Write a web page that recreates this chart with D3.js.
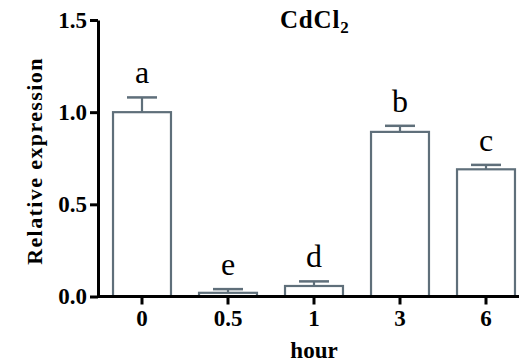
<!DOCTYPE html>
<html>
<head>
<meta charset="utf-8">
<script src="https://cdn.jsdelivr.net/npm/d3@7"></script>
<style>
  body { margin: 0; background: #fff; }
  text { font-family: "Liberation Serif", "Times New Roman", serif; }
</style>
</head>
<body>
<script>
const hours = ["0", "0.5", "1", "3", "6"];
const means = [1.0, 0.02, 0.057, 0.893, 0.69];
const errs = [0.08, 0.02, 0.025, 0.033, 0.024];
const letters = ["a", "e", "d", "b", "c"];
const yTicks = [0, 0.5, 1.0, 1.5];

const w = 519, h = 362;
const barColor = "#5f6f7a";

const svg = d3.select("body").append("svg")
  .attr("width", w)
  .attr("height", h);

const x = d3.scaleBand()
  .domain(hours)
  .range([99, 529])
  .paddingInner(0.326)
  .paddingOuter(0.163);

const y = d3.scaleLinear()
  .domain([0, 1.5])
  .range([296.5, 20]);

const bars = svg.selectAll(".bar")
  .data(hours)
  .join("g")
  .attr("class", "bar");

bars.append("rect")
  .attr("x", d => x(d))
  .attr("y", (d, i) => y(means[i]))
  .attr("width", x.bandwidth())
  .attr("height", (d, i) => y(0) - y(means[i]))
  .attr("fill", "white")
  .attr("stroke", barColor)
  .attr("stroke-width", 2.2);

// error bars (upper only)
bars.append("line")
  .attr("x1", d => x(d) + x.bandwidth() / 2)
  .attr("x2", d => x(d) + x.bandwidth() / 2)
  .attr("y1", (d, i) => y(means[i]))
  .attr("y2", (d, i) => y(means[i] + errs[i]))
  .attr("stroke", barColor)
  .attr("stroke-width", 2.2);

bars.append("line")
  .attr("x1", d => x(d) + x.bandwidth() / 2 - 15)
  .attr("x2", d => x(d) + x.bandwidth() / 2 + 15)
  .attr("y1", (d, i) => y(means[i] + errs[i]))
  .attr("y2", (d, i) => y(means[i] + errs[i]))
  .attr("stroke", barColor)
  .attr("stroke-width", 2.5);

bars.append("text")
  .attr("x", d => x(d) + x.bandwidth() / 2)
  .attr("y", (d, i) => y(means[i] + errs[i]) - 14)
  .attr("text-anchor", "middle")
  .style("font-size", "32px")
  .text((d, i) => letters[i]);

// axes
const xAxis = svg.append("g")
  .attr("transform", `translate(0,${y(0)})`)
  .call(d3.axisBottom(x).tickSize(8).tickPadding(5).tickSizeOuter(0));
xAxis.select(".domain").attr("d", `M98,0H519`);

const yAxis = svg.append("g")
  .attr("transform", "translate(98,0)")
  .call(d3.axisLeft(y).tickValues(yTicks).tickFormat(d3.format(".1f")).tickSize(8).tickPadding(3).tickSizeOuter(0));

svg.selectAll(".domain, .tick line")
  .attr("stroke", "black")
  .attr("stroke-width", 3);
svg.selectAll(".tick text")
  .attr("fill", "black")
  .style("font-size", "23px")
  .style("font-weight", "bold");

svg.append("text")
  .attr("x", 314)
  .attr("y", 358)
  .attr("text-anchor", "middle")
  .style("font-size", "23px")
  .style("font-weight", "bold")
  .text("hour");

svg.append("text")
  .attr("transform", "translate(42,161) rotate(-90)")
  .attr("text-anchor", "middle")
  .style("font-size", "22px")
  .style("font-weight", "bold")
  .style("letter-spacing", "1.4px")
  .text("Relative expression");

const title = svg.append("text")
  .attr("x", 280)
  .attr("y", 28)
  .style("font-size", "25px")
  .style("font-weight", "bold")
  .style("letter-spacing", "0.8px");
title.append("tspan").text("CdCl");
title.append("tspan").attr("dy", 5).style("font-size", "17px").text("2");
</script>
</body>
</html>
